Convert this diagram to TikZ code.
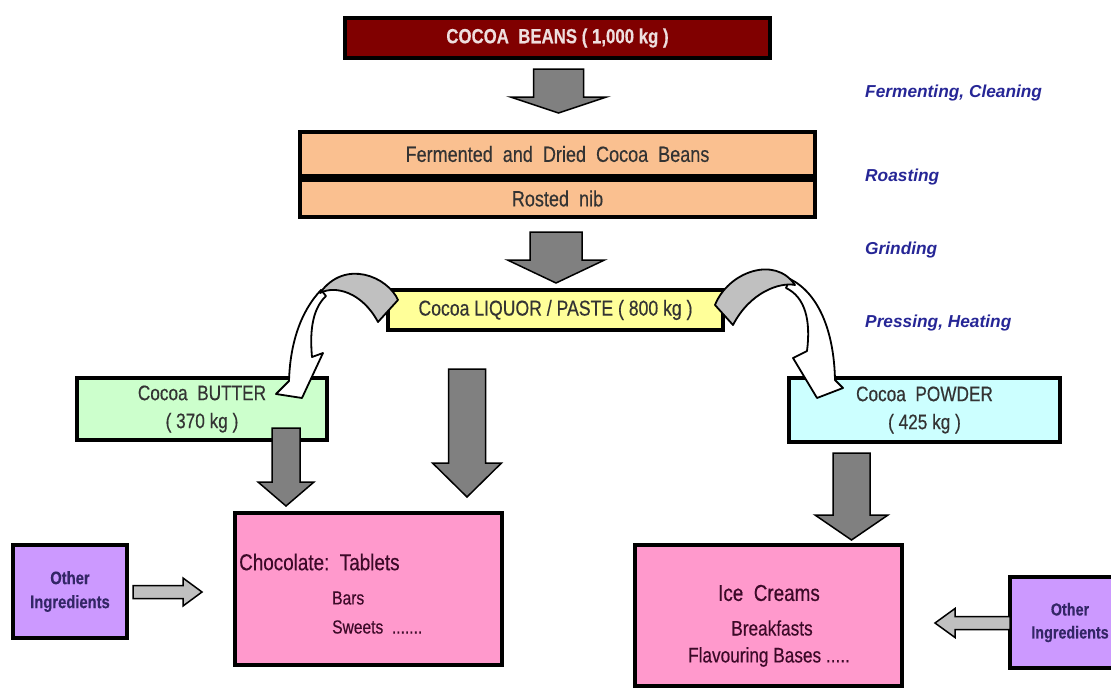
\documentclass[tikz,border=0pt]{standalone}
\usepackage{fontspec}
\setmainfont{Liberation Sans}
\newfontfamily\narrowfont{Liberation Sans}[FakeStretch=0.82, FakeBold=0.4]
\usetikzlibrary{arrows.meta,calc}

\definecolor{beanred}{RGB}{128,0,0}
\definecolor{beantext}{RGB}{238,222,222}
\definecolor{peach}{RGB}{250,192,144}
\definecolor{liquorfill}{RGB}{255,255,153}
\definecolor{butterfill}{RGB}{204,255,204}
\definecolor{powderfill}{RGB}{204,255,255}
\definecolor{productfill}{RGB}{255,153,204}
\definecolor{otherfill}{RGB}{204,153,255}
\definecolor{othertext}{RGB}{51,38,102}
\definecolor{stageblue}{RGB}{38,38,150}
\definecolor{arrowgray}{RGB}{128,128,128}
\definecolor{twistgray}{RGB}{192,192,192}
\definecolor{prodtext}{RGB}{60,10,40}

% x, top, head, tip, half shaft, half head
\newcommand{\dnarrow}[6]{%
  \filldraw[blockarrow] (#1-#5,#2) -- (#1+#5,#2) -- (#1+#5,#3) -- (#1+#6,#3)
    -- (#1,#4) -- (#1-#6,#3) -- (#1-#5,#3) -- cycle;}

\begin{document}
\begin{tikzpicture}[x=1pt, y=-1pt,
  box/.style={draw=black, line width=3.5pt, inner sep=0pt, align=center,
    text=black!80, font=\narrowfont\fontsize{21}{28}\selectfont},
  prodline/.style={inner sep=0pt, text=prodtext},
  otherbox/.style={box, fill=otherfill, text=othertext,
    font=\narrowfont\bfseries\fontsize{18}{24}\selectfont},
  stage/.style={anchor=west, inner sep=0pt, text=stageblue,
    font=\bfseries\itshape\fontsize{17.3}{20}\selectfont},
  blockarrow/.style={fill=arrowgray, draw=black, line width=1.5pt},
  sidearrow/.style={fill=twistgray, draw=black, line width=1.5pt},
  twist/.style={draw=black, line width=1.8pt, line join=round}]

\useasboundingbox (0,0) rectangle (1111,688);

\node[box, fill=beanred, text=beantext, minimum width=425pt, minimum height=40pt,
  font=\narrowfont\bfseries\fontsize{20.5}{24}\selectfont] (beans) at (557.5,38)
  {COCOA\ \ BEANS ( 1,000 kg )};

\node[box, fill=peach, minimum width=515pt, minimum height=44pt,
  font=\narrowfont\fontsize{22}{26}\selectfont] (dried) at (557.5,154)
  {Fermented\ \ and\ \ Dried\ \ Cocoa\ \ Beans};
\node[box, fill=peach, minimum width=515pt, minimum height=37pt,
  font=\narrowfont\fontsize{22}{26}\selectfont] (nib) at (557.5,198.5)
  {Rosted\ \ nib};

\node[box, fill=liquorfill, minimum width=335pt, minimum height=40pt,
  font=\narrowfont\fontsize{21.5}{26}\selectfont] (liquor) at (555.5,310)
  {Cocoa LIQUOR / PASTE ( 800 kg )};

\node[box, fill=butterfill, minimum width=250pt, minimum height=62pt] (butter)
  at (202,409) {Cocoa\ \ BUTTER\\( 370 kg )};
\node[box, fill=powderfill, minimum width=271pt, minimum height=64pt] (powder)
  at (924.5,410) {Cocoa\ \ POWDER\\( 425 kg )};

\node[box, fill=productfill, minimum width=267pt, minimum height=152pt] (choc)
  at (368.5,589) {};
\node[prodline, anchor=west, font=\narrowfont\fontsize{23}{26}\selectfont] (chocA)
  at (239,562) {Chocolate:\ \ Tablets};
\node[prodline, anchor=west, font=\narrowfont\fontsize{19}{22}\selectfont] (chocB)
  at (332,598) {Bars};
\node[prodline, anchor=west, font=\narrowfont\fontsize{19}{22}\selectfont] (chocC)
  at (332,627) {Sweets\ \ .......};

\node[box, fill=productfill, minimum width=267pt, minimum height=141pt] (ice)
  at (768.5,615.5) {};
\node[prodline, font=\narrowfont\fontsize{23}{26}\selectfont] (iceA)
  at (769,593) {Ice\ \ Creams};
\node[prodline, font=\narrowfont\fontsize{21}{24}\selectfont] (iceB)
  at (772,628) {Breakfasts};
\node[prodline, font=\narrowfont\fontsize{21}{24}\selectfont] (iceC)
  at (769,657) {Flavouring Bases .....};

\node[otherbox, minimum width=114pt, minimum height=93pt] (otherL)
  at (70,591.5) {Other\\Ingredients};
\node[otherbox, minimum width=120pt, minimum height=91pt,
  font=\narrowfont\bfseries\fontsize{17.5}{23}\selectfont] (otherR)
  at (1070,622.5) {Other\\Ingredients};

\node[stage] (fermlbl) at (865,93) {Fermenting, Cleaning};
\node[stage] (roastlbl) at (865,177) {Roasting};
\node[stage] (grindlbl) at (865,250) {Grinding};
\node[stage] (presslbl) at (865,323) {Pressing, Heating};

\dnarrow{558.5}{69}{97}{113}{25}{48}
\dnarrow{556}{232}{260}{283}{26}{48.5}
\dnarrow{467}{369}{463}{497}{18.5}{34.5}
\dnarrow{286}{428}{482}{506}{14}{28}
\dnarrow{851.5}{453}{515}{540}{18.5}{36.5}

\filldraw[sidearrow] (133,585.5) -- (183,585.5) -- (183,578) -- (202,592)
  -- (183,606) -- (183,598.5) -- (133,598.5) -- cycle;
\filldraw[sidearrow] (1010,616.5) -- (955,616.5) -- (955,608.5) -- (935,623)
  -- (955,637.5) -- (955,629.5) -- (1010,629.5) -- cycle;

\filldraw[twist, fill=white] (321,290) .. controls (300,312) and (290,345) .. (289,381)
  -- (276,394) -- (302,398) -- (323,353) -- (312,357)
  .. controls (310,335) and (311,310) .. (326,296) -- cycle;
\filldraw[twist, fill=twistgray] (398,300) .. controls (388,277) and (345,258) .. (320,293)
  .. controls (335,285) and (362,292) .. (378,322) -- cycle;

\filldraw[twist, fill=white] (790,279) .. controls (818,293) and (834,330) .. (835,380)
  -- (843,388) -- (817,398) -- (793,358) -- (807,351)
  .. controls (811,320) and (805,297) .. (786,288) -- cycle;
\filldraw[twist, fill=twistgray] (715,305) .. controls (728,272) and (775,255) .. (795,285)
  .. controls (780,282) and (750,292) .. (733,325) -- cycle;

\end{tikzpicture}
\end{document}
